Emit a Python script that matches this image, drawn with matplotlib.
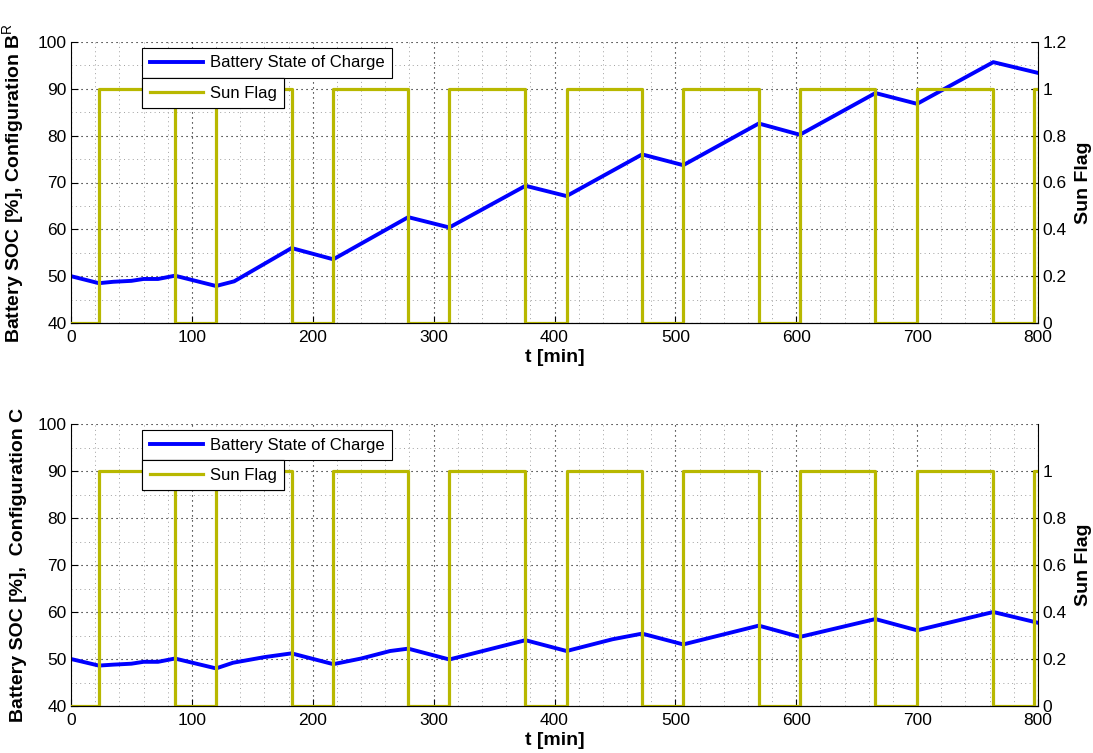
import numpy as np
import matplotlib
matplotlib.use("Agg")
import matplotlib.pyplot as plt
from matplotlib.ticker import MultipleLocator, FixedLocator

plt.rcParams['font.family'] = ['Liberation Sans', 'DejaVu Sans']
plt.rcParams['mathtext.fontset'] = 'custom'
plt.rcParams['mathtext.rm'] = 'Liberation Sans'

# sun flag switching times [min] (steps-post)
sun_t = [0, 23, 86, 120, 182.5, 217, 279, 313, 376, 410, 472.5, 506.5,
         569, 603, 665.5, 700, 763, 797, 800]
sun_flag = [0, 1, 0, 1, 0, 1, 0, 1, 0, 1, 0, 1, 0, 1, 0, 1, 0, 1, 1]

# configuration B
t_b = [0, 23, 35, 50, 60, 72, 86, 120, 135, 182.5, 217, 279, 313, 376, 410,
       472.5, 506.5, 569, 603, 665.5, 700, 763, 800]
soc_b = [50.0, 48.5, 48.8, 49.0, 49.4, 49.4, 50.1, 47.9, 48.9, 56.0, 53.6,
         62.6, 60.4, 69.3, 67.1, 76.0, 73.7, 82.6, 80.2, 89.1, 86.8, 95.7, 93.4]

# configuration C
t_c = [0, 23, 35, 50, 60, 72, 86, 120, 134, 160, 182.5, 217, 240, 264, 279,
       313, 376, 410, 448, 472.5, 506.5, 569, 603, 665.5, 700, 763, 800]
soc_c = [50.0, 48.6, 48.8, 49.0, 49.4, 49.4, 50.1, 48.0, 49.2, 50.4, 51.2,
         48.9, 50.1, 51.7, 52.2, 49.9, 54.0, 51.7, 54.2, 55.4, 53.1, 57.1,
         54.7, 58.5, 56.1, 60.0, 57.7]

blue = (0, 0, 1)
olive = (0.72, 0.72, 0)
W, H = 1093, 753


def draw_panel(rect, t, soc, ylabel, right_ticks):
    ax = fig.add_axes(rect)
    ax.plot(t, soc, color=blue, lw=2.8, label='Battery State of Charge')
    ax.set_xlim(0, 800)
    ax.set_ylim(40, 100)
    ax.xaxis.set_major_locator(MultipleLocator(100))
    ax.xaxis.set_minor_locator(MultipleLocator(20))
    ax.yaxis.set_major_locator(MultipleLocator(10))
    ax.yaxis.set_minor_locator(MultipleLocator(5))
    ax.grid(True, which='major', color='black', lw=0.8, ls=(0, (1, 3.5)))
    ax.grid(True, which='minor', color='#a0a0a0', lw=0.7, ls=(0, (1, 3.5)))
    ax.tick_params(which='major', direction='in', length=5, width=0.8,
                   labelsize=12.5, pad=3)
    ax.tick_params(axis='x', pad=5)
    ax.tick_params(which='minor', length=0)
    ax.spines['top'].set_visible(False)
    ax.spines['right'].set_visible(False)
    ax.set_xlabel('t [min]', fontsize=14, fontweight='bold', labelpad=3)
    ax.set_ylabel(ylabel, fontsize=14, fontweight='bold', labelpad=8)

    ax2 = ax.twinx()
    ax2.plot(sun_t, sun_flag, color=olive, lw=2.3, drawstyle='steps-post',
             label='Sun Flag')
    ax2.set_xlim(0, 800)
    ax2.set_ylim(0, 1.2)
    ax2.yaxis.set_major_locator(FixedLocator(right_ticks))
    ax2.set_yticklabels(['%g' % v for v in right_ticks])
    ax2.tick_params(direction='in', length=5, width=0.8, labelsize=12.5, pad=3)
    ax2.spines['top'].set_visible(False)
    ax2.spines['left'].set_visible(False)
    ax2.set_ylabel('Sun Flag', fontsize=14, fontweight='bold', labelpad=6)

    # two stacked MATLAB-style legend boxes
    top_px = (1 - rect[1] - rect[3]) * H
    for axis, dy in ((ax, 6), (ax2, 36)):
        h, l = axis.get_legend_handles_labels()
        leg = ax2.legend(h, l, loc='upper left',
                         bbox_to_anchor=(142 / W, 1 - (top_px + dy) / H),
                         bbox_transform=fig.transFigure, borderaxespad=0,
                         fontsize=12, handlelength=3.2, handletextpad=0.4,
                         borderpad=0.45, fancybox=False, framealpha=1,
                         edgecolor='black')
        leg.get_frame().set_linewidth(0.8)
        ax2.add_artist(leg)


fig = plt.figure(figsize=(W / 100, H / 100), dpi=100)
draw_panel([71 / W, 1 - 323 / H, 967 / W, 281 / H], t_b, soc_b,
           r'Battery SOC [%], Configuration B$^{\mathrm{R}}$',
           [0, 0.2, 0.4, 0.6, 0.8, 1, 1.2])
draw_panel([71 / W, 1 - 706 / H, 967 / W, 282 / H], t_c, soc_c,
           'Battery SOC [%],  Configuration C',
           [0, 0.2, 0.4, 0.6, 0.8, 1])

fig.savefig('out.png', dpi=100)
